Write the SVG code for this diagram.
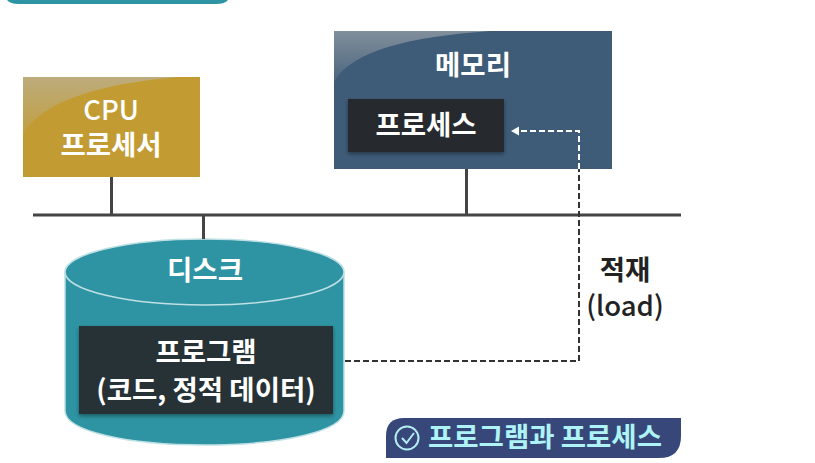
<svg xmlns="http://www.w3.org/2000/svg" width="815" height="463" viewBox="0 0 815 463">
<defs>
<style>
text{font-family:"Noto Sans CJK KR","Noto Sans",sans-serif;font-weight:700;font-size:27.5px;text-anchor:middle;fill:#fff}
.latin{font-weight:500}
.bus{stroke:#444;stroke-width:3;fill:none}
.load{stroke:#333;stroke-width:2;stroke-dasharray:6 3;fill:none}
.loadw{stroke:#fff;stroke-width:2;stroke-dasharray:6 3;fill:none}
.dark{filter:url(#sh)}
</style>
<linearGradient id="gl" x1="0" y1="0" x2="0" y2="1"><stop offset="0" stop-color="#b8b8b8" stop-opacity=".55"/><stop offset="1" stop-color="#b8b8b8" stop-opacity=".1"/></linearGradient>
<filter id="sh" x="-10%" y="-10%" width="120%" height="125%"><feDropShadow dx="0" dy="2" stdDeviation="2" flood-color="#000" flood-opacity=".4"/></filter>
</defs>
<path id="top-bar" d="M7 0H228Q225 4 216 4H19Q10 4 7 0Z" fill="#2e94a3"/>
<g id="cpu">
<rect x="23" y="77" width="177" height="100" fill="#c29c33"/>
<path fill="url(#gl)" d="M23 134C44 100 100 84 178 77H23Z"/>
<text><tspan class="latin" x="111" y="120">CPU</tspan><tspan x="111" y="155">프로세서</tspan></text>
</g>
<g id="memory">
<rect x="334" y="31" width="278" height="138" fill="#3e5c78"/>
<path fill="url(#gl)" d="M334 82C352 50 410 37 490 31H334Z"/>
<text x="473" y="75">메모리</text>
<rect class="dark" x="348" y="99" width="156" height="53" fill="#26292e"/>
<text x="426" y="135">프로세스</text>
</g>
<g id="disk">
<path d="M65 272V411C65 431 127 445 205 445S344 431 344 411V272Z" fill="#2e94a3" stroke="#bfe0e4" stroke-width="1.500"/>
<ellipse cx="204.500" cy="272" rx="139.500" ry="33" fill="#2e94a3" stroke="#bfe0e4" stroke-width="1.500"/>
<text x="205" y="280">디스크</text>
<rect class="dark" x="79" y="326" width="254" height="88" fill="#253135"/>
<text><tspan x="206" y="362">프로그램</tspan><tspan x="206" y="400">(코드, 정적 데이터)</tspan></text>
</g>
<g id="connectors">
<path class="bus" d="M33 215H681M111.500 177V215M203.500 215V239M466.500 169V215"/>
<path class="load" d="M345 361H579V169"/>
<path class="loadw" d="M579 169V131H518"/>
<path d="M511 131L519 126.500V135.500Z" fill="#fff"/>
</g>
<g id="load-label">
<text style="fill:#222"><tspan x="625" y="280">적재</tspan><tspan class="latin" x="625" y="316">(load)</tspan></text>
</g>
<g id="caption">
<path d="M386 458V436Q386 418 404 418H681V436Q681 458 659 458Z" fill="#37477a"/>
<circle cx="407" cy="438" r="11.500" fill="none" stroke="#b5eef2" stroke-width="2"/>
<path d="M402 438L406.500 443L414 433" fill="none" stroke="#b5eef2" stroke-width="2"/>
<text x="545" y="447" style="fill:#aef3f5">프로그램과 프로세스</text>
</g>
</svg>
